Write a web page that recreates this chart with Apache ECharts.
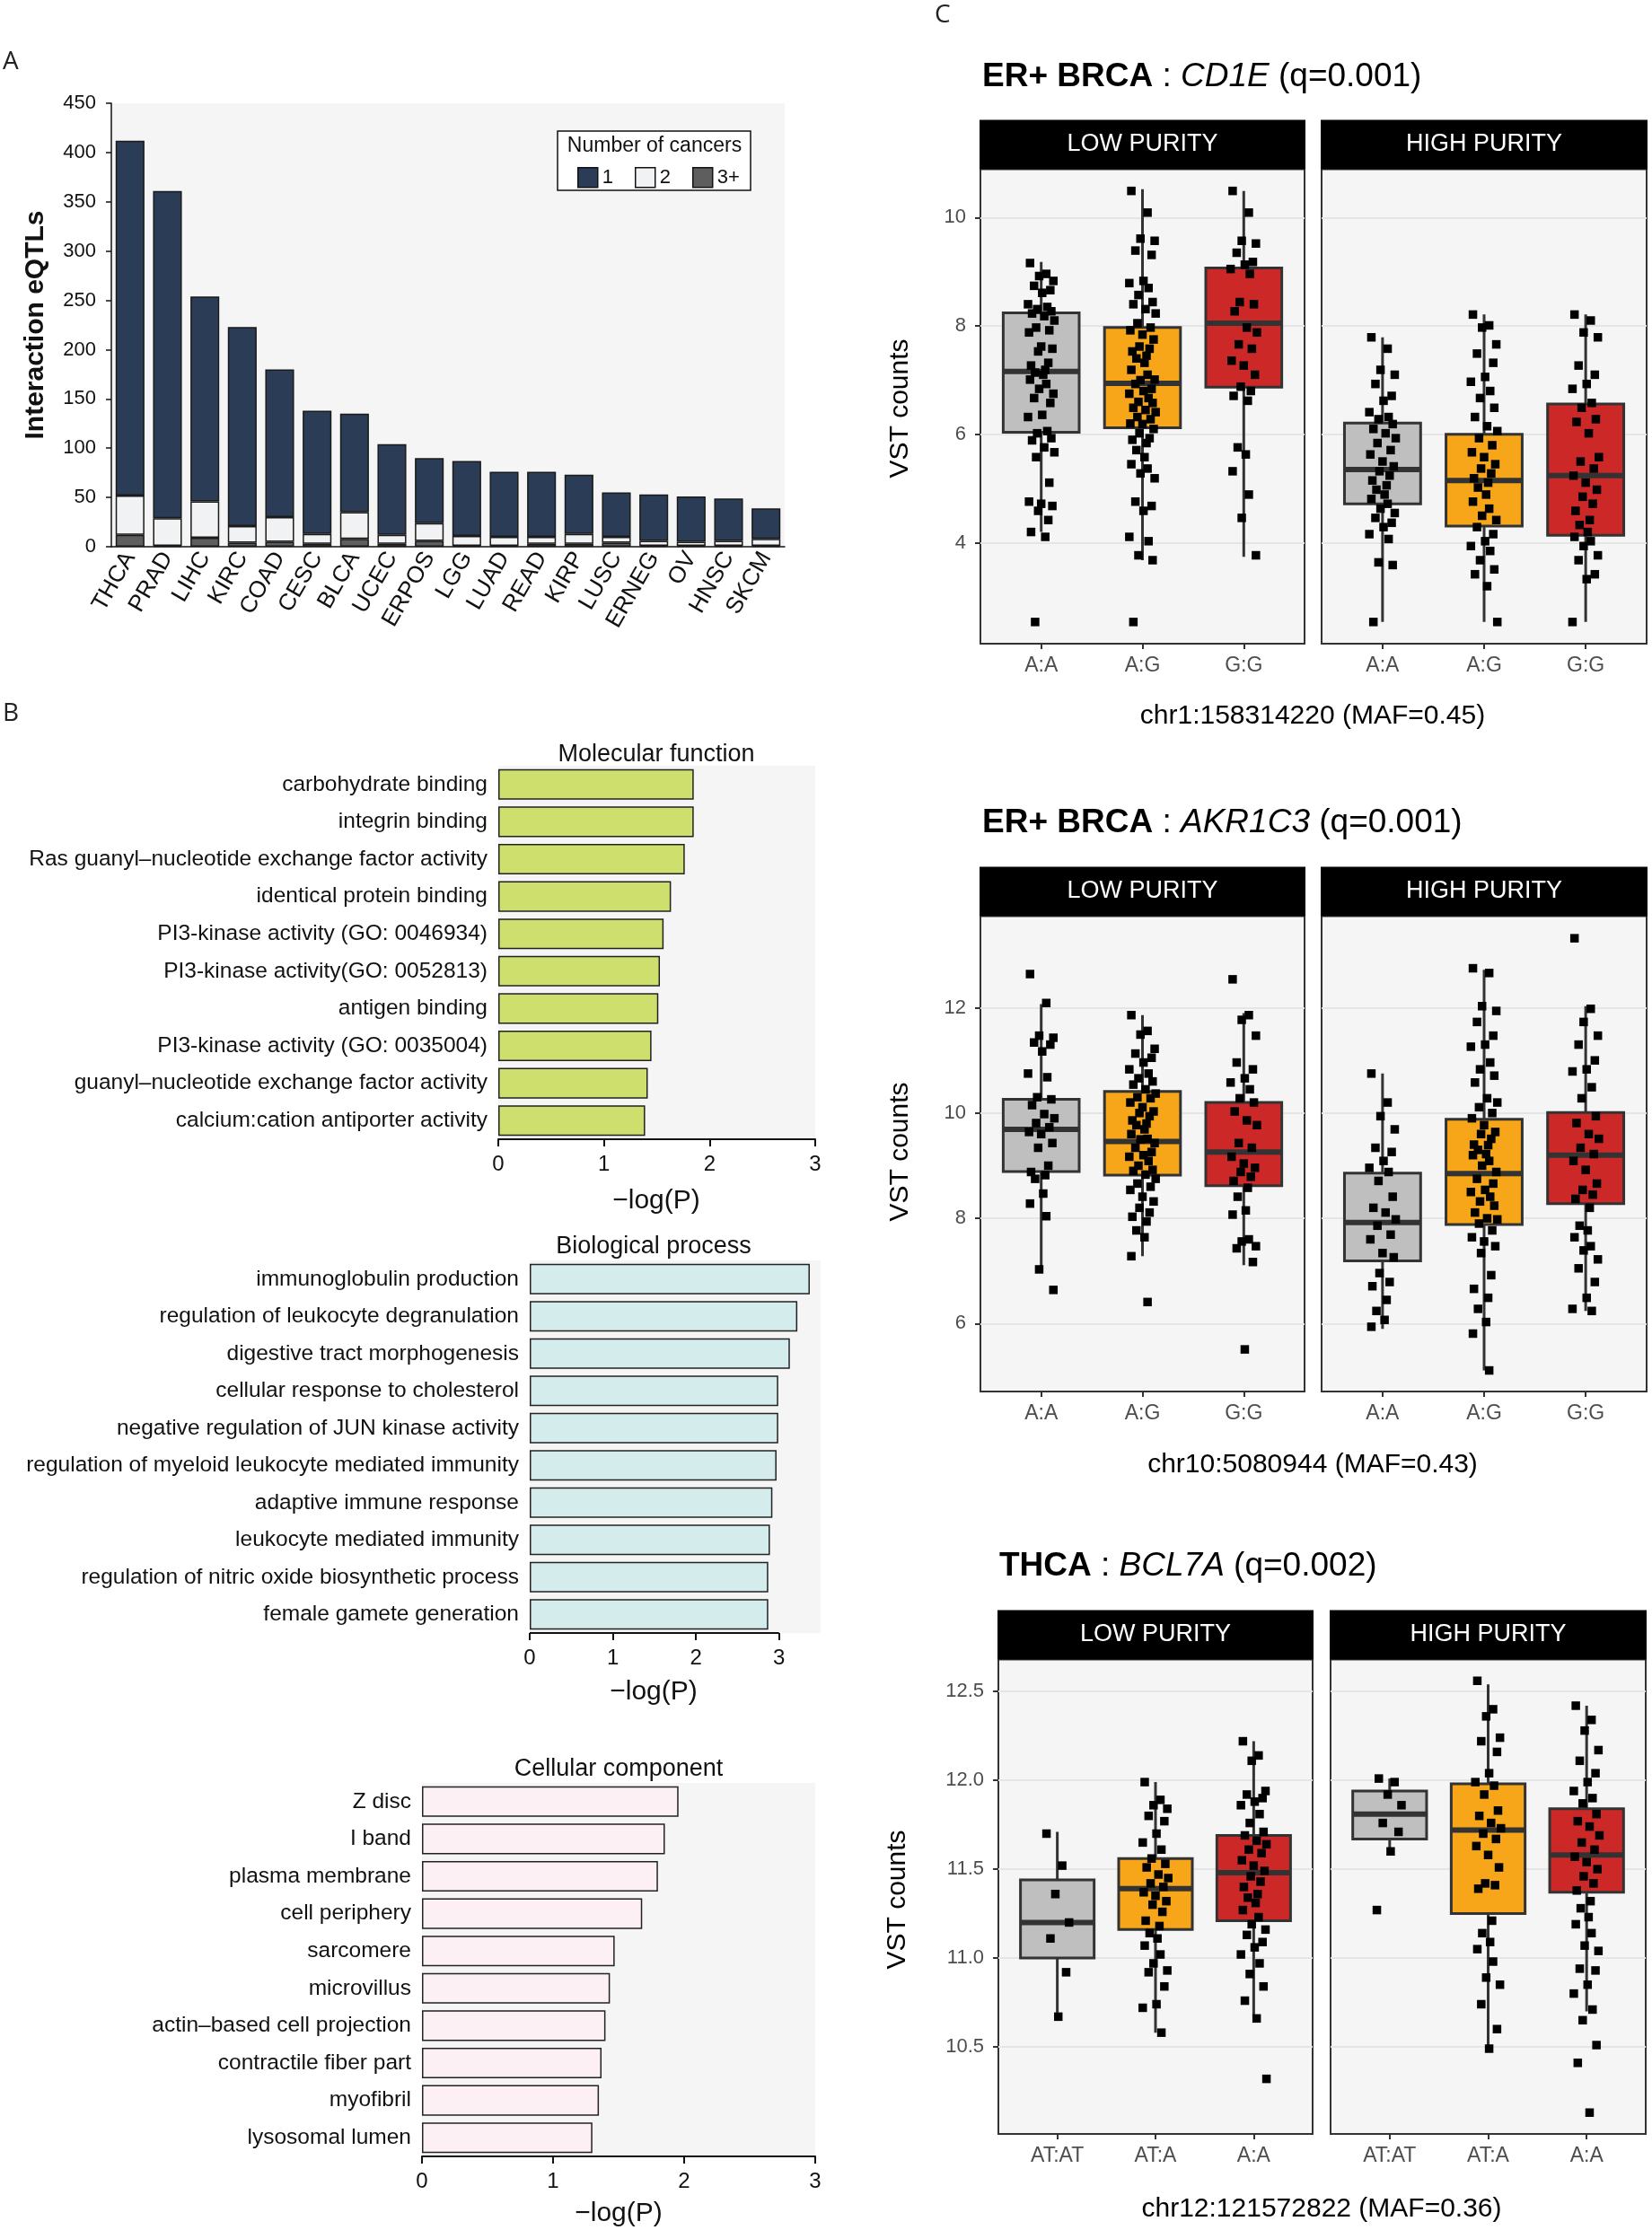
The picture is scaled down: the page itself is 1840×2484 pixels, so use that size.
<!DOCTYPE html>
<html><head><meta charset="utf-8">
<script src="https://cdn.jsdelivr.net/npm/echarts@6/dist/echarts.min.js"></script>
<style>html,body{margin:0;padding:0;background:#fff}#c{width:1840px;height:2484px}</style>
</head><body><div id="c"></div>
<script>
// ---------------- DATA ----------------
const cancerTypes = ['THCA','PRAD','LIHC','KIRC','COAD','CESC','BLCA','UCEC','ERPOS','LGG','LUAD','READ','KIRP','LUSC','ERNEG','OV','HNSC','SKCM'];
const eqtlIn1 = [360,332,208,202,150,125,100,92,66,76,66,66,60,45,47,46,43,31];
const eqtlIn2 = [40,28,37,17,25,10,27,9,18,10,9,7,10,6,5,4,5,7];
const eqtlIn3plus = [12,1,9,4,5,3,8,3,6,1,1,3,3,4,1,1,1,1];

const mfTerms = ['carbohydrate binding','integrin binding','Ras guanyl\u2013nucleotide exchange factor activity','identical protein binding','PI3-kinase activity (GO: 0046934)','PI3-kinase activity(GO: 0052813)','antigen binding','PI3-kinase activity (GO: 0035004)','guanyl\u2013nucleotide exchange factor activity','calcium:cation antiporter activity'];
const mfLogP = [1.85,1.85,1.765,1.635,1.565,1.53,1.515,1.45,1.415,1.39];
const bpTerms = ['immunoglobulin production','regulation of leukocyte degranulation','digestive tract morphogenesis','cellular response to cholesterol','negative regulation of JUN kinase activity','regulation of myeloid leukocyte mediated immunity','adaptive immune response','leukocyte mediated immunity','regulation of nitric oxide biosynthetic process','female gamete generation'];
const bpLogP = [3.37,3.22,3.13,2.99,2.99,2.97,2.92,2.89,2.87,2.87];
const ccTerms = ['Z disc','I band','plasma membrane','cell periphery','sarcomere','microvillus','actin\u2013based cell projection','contractile fiber part','myofibril','lysosomal lumen'];
const ccLogP = [1.957,1.853,1.80,1.68,1.47,1.434,1.40,1.37,1.35,1.30];

// Box stats: [whisker low, Q1, median, Q3, whisker high]
const cd1eGenotypes = ['A:A','A:G','G:G'];
const cd1eLowBox = [[4.2,6.04,7.16,8.24,9.18],[3.68,6.12,6.94,7.97,10.52],[3.74,6.87,8.05,9.07,10.49]];
const cd1eHighBox = [[2.54,4.72,5.35,6.21,7.79],[2.54,4.31,5.15,6.0,8.21],[2.54,4.14,5.24,6.56,8.21]];
const cd1eLowPts = [
 [9.16,8.96,8.92,8.83,8.74,8.66,8.61,8.4,8.35,8.31,8.27,8.23,8.18,8.1,7.97,7.92,7.88,7.62,7.58,7.53,7.32,7.27,7.19,7.14,7.1,7.01,6.93,6.84,6.75,6.67,6.58,6.36,6.32,6.06,6.02,5.93,5.89,5.76,5.67,5.58,5.11,4.76,4.72,4.68,4.59,4.42,4.2,4.11,2.54],
 [10.49,10.09,9.61,9.57,9.39,9.31,8.83,8.79,8.7,8.57,8.44,8.4,8.31,8.23,8.05,7.97,7.92,7.84,7.75,7.62,7.58,7.53,7.45,7.4,7.32,7.19,7.1,7.0,7.01,6.93,6.84,6.8,6.75,6.67,6.6,6.58,6.49,6.45,6.41,6.32,6.28,6.2,6.19,6.1,6.02,5.93,5.9,5.84,5.71,5.58,5.45,5.37,5.28,5.19,4.76,4.68,4.59,4.11,4.03,3.77,3.68,2.54],
 [10.49,10.09,9.57,9.52,9.35,9.18,9.13,9.05,8.96,8.44,8.4,8.27,7.97,7.88,7.66,7.58,7.36,7.27,7.1,6.88,6.8,6.71,6.62,5.76,5.63,5.32,4.89,4.46,3.77]];
const cd1eHighPts = [
 [7.79,7.58,7.19,7.1,6.93,6.71,6.62,6.41,6.32,6.28,6.19,6.1,6.02,5.93,5.84,5.71,5.63,5.5,5.41,5.32,5.24,5.15,5.06,4.98,4.89,4.81,4.72,4.63,4.55,4.46,4.37,4.29,4.16,4.07,3.64,3.59,2.54],
 [8.21,8.01,7.97,7.66,7.49,7.32,7.06,6.97,6.8,6.67,6.49,6.32,6.15,6.06,5.93,5.8,5.67,5.58,5.45,5.37,5.28,5.19,5.11,5.02,4.89,4.76,4.63,4.5,4.42,4.29,4.16,4.03,3.94,3.85,3.68,3.51,3.42,3.2,2.54],
 [8.21,8.1,7.88,7.79,7.27,7.1,6.93,6.84,6.58,6.49,6.28,6.23,6.02,5.58,5.5,5.37,5.24,5.11,4.98,4.85,4.72,4.59,4.42,4.33,4.2,4.11,4.03,3.94,3.77,3.68,3.42,3.33,2.54]];
const cd1eYRange = [2.14, 10.89];
const cd1eYTicks = [4,6,8,10];

const akrGenotypes = ['A:A','A:G','G:G'];
const akrLowBox = [[7.05,8.89,9.69,10.26,12.07],[7.28,8.82,9.46,10.41,11.86],[7.11,8.62,9.26,10.2,11.9]];
const akrHighBox = [[5.9,7.19,7.92,8.86,10.75],[5.11,7.88,8.85,9.88,12.72],[6.24,8.28,9.2,10.01,12.03]];
const akrLowPts = [
 [12.64,12.09,11.47,11.43,11.34,11.3,11.17,10.75,10.68,10.3,10.26,10.15,9.98,9.9,9.81,9.73,9.64,9.6,9.43,9.34,9.0,8.88,8.82,8.75,8.47,8.28,8.04,7.03,6.64],
 [11.86,11.56,11.49,11.22,11.13,11.05,10.96,10.83,10.75,10.66,10.6,10.54,10.45,10.37,10.3,10.28,10.2,10.11,10.03,10.0,9.94,9.86,9.8,9.77,9.69,9.6,9.51,9.5,9.43,9.34,9.26,9.2,9.17,9.09,9.0,8.92,8.9,8.83,8.75,8.66,8.6,8.54,8.41,8.32,8.2,8.11,8.03,7.94,7.77,7.64,7.28,6.41],
 [12.54,11.86,11.77,11.47,10.96,10.83,10.66,10.58,10.45,10.28,10.2,10.03,9.86,9.77,9.43,9.34,9.17,9.04,8.96,8.88,8.79,8.71,8.58,8.41,8.15,8.07,7.6,7.56,7.47,7.43,7.17,5.51]];
const akrHighPts = [
 [10.75,10.2,9.94,9.69,9.34,9.26,9.09,8.96,8.88,8.71,8.41,8.2,8.11,7.98,7.86,7.69,7.6,7.34,7.26,6.96,6.79,6.71,6.45,6.24,6.07,5.94],
 [12.75,12.66,12.03,11.94,11.73,11.47,11.3,11.26,10.96,10.83,10.71,10.58,10.28,10.2,10.11,10.0,9.9,9.77,9.64,9.6,9.51,9.4,9.39,9.3,9.22,9.2,9.09,9.0,8.88,8.75,8.66,8.54,8.5,8.41,8.32,8.24,8.11,8.0,7.98,7.9,7.77,7.64,7.56,7.47,7.34,6.92,6.66,6.49,6.28,6.03,5.81,5.11],
 [13.32,11.98,11.73,11.47,11.3,11.0,10.83,10.79,10.49,10.28,9.94,9.81,9.6,9.51,9.34,9.22,9.09,8.92,8.66,8.54,8.45,8.37,8.2,7.86,7.77,7.64,7.47,7.39,7.22,7.05,6.79,6.49,6.28,6.24]];
const akrYRange = [4.71, 13.74];
const akrYTicks = [6,8,10,12];

const bclGenotypes = ['AT:AT','AT:A','A:A'];
const bclLowBox = [[10.67,11.0,11.2,11.44,11.71],[10.58,11.16,11.39,11.56,11.99],[10.68,11.21,11.48,11.69,12.22]];
const bclHighBox = [[11.58,11.67,11.81,11.94,12.01],[10.49,11.25,11.72,11.98,12.54],[10.7,11.37,11.58,11.84,12.42]];
const bclLowPts = [
 [11.7,11.52,11.36,11.2,11.11,10.92,10.67],
 [11.99,11.89,11.86,11.84,11.8,11.77,11.7,11.65,11.61,11.56,11.53,11.51,11.47,11.45,11.42,11.4,11.37,11.35,11.32,11.3,11.26,11.21,11.18,11.14,11.11,11.07,11.02,10.97,10.93,10.92,10.84,10.74,10.72,10.58],
 [12.22,12.14,12.11,11.94,11.92,11.9,11.88,11.86,11.81,11.76,11.71,11.69,11.66,11.64,11.61,11.59,11.55,11.52,11.49,11.46,11.43,11.4,11.36,11.34,11.31,11.27,11.23,11.19,11.16,11.13,11.09,11.06,11.02,10.97,10.91,10.84,10.76,10.66,10.32]];
const bclHighPts = [
 [12.01,11.99,11.92,11.86,11.76,11.71,11.6,11.27],
 [12.56,12.4,12.36,12.24,12.22,12.16,12.04,11.99,11.97,11.92,11.83,11.8,11.76,11.73,11.7,11.67,11.63,11.58,11.51,11.42,11.41,11.39,11.21,11.14,11.09,11.05,10.98,10.89,10.85,10.74,10.6,10.49],
 [12.42,12.34,12.28,12.17,12.11,12.04,11.99,11.94,11.9,11.87,11.81,11.77,11.74,11.69,11.65,11.61,11.57,11.54,11.5,11.46,11.42,11.38,11.32,11.28,11.23,11.19,11.14,11.07,11.04,10.94,10.93,10.85,10.8,10.71,10.65,10.51,10.41,10.13]];
const bclYRange = [10.01, 12.68];
const bclYTicks = [10.5,11.0,11.5,12.0,12.5];

// fixed horizontal jitter pattern (visual spread only)
const JITTER = [-0.11,0.05,-0.02,0.12,-0.07,0.09,0.01,-0.13,0.06,-0.04,0.1,-0.09,0.03,0.13,-0.05,0.08,-0.12,0.0,0.11,-0.03,0.07,-0.1,0.04,-0.06,0.02];

// ---------------- STYLE ----------------
const FONT = "'Liberation Sans', Arial, Helvetica, sans-serif";
const BG = '#f4f5f4';
const BOX_COLORS = ['#bfbfbf','#f7a61a','#cd2828'];

const grids = [], xAxes = [], yAxes = [], series = [], graphics = [];

// ---------------- PANEL A ----------------
grids.push({left:124, top:115, width:750, height:494, show:true, backgroundColor:BG, borderWidth:0});
xAxes.push({gridIndex:0, type:'category', data:cancerTypes,
  axisLine:{lineStyle:{color:'#111', width:1.5}},
  axisTick:{alignWithLabel:true, length:6, lineStyle:{color:'#111', width:1.5}},
  axisLabel:{rotate:60, interval:0, fontSize:26, color:'#111', fontFamily:FONT, margin:8}});
yAxes.push({gridIndex:0, type:'value', min:0, max:450, interval:50,
  axisLine:{show:true, lineStyle:{color:'#111', width:1.5}},
  axisTick:{show:true, length:6, lineStyle:{color:'#111', width:1.5}},
  axisLabel:{fontSize:22, color:'#111', fontFamily:FONT, margin:17},
  splitLine:{show:false}});
[['3+', eqtlIn3plus, '#5e5e5e'], ['2', eqtlIn2, '#f0f2f3'], ['1', eqtlIn1, '#2b3c57']].forEach(([name, data, color]) => {
  series.push({type:'bar', name, data, stack:'eqtl', xAxisIndex:0, yAxisIndex:0, barCategoryGap:'23%',
    itemStyle:{color, borderColor:'#1a1a1a', borderWidth:1.5}, emphasis:{disabled:true}});
});

// ---------------- PANEL B ----------------
function goPanel(terms, vals, color, box, xmax) {
  const gi = grids.length;
  grids.push({left:box[0], top:box[1], width:box[2], height:box[3], show:true, backgroundColor:BG, borderWidth:0});
  const fullLine = xmax === 3;
  xAxes.push({gridIndex:gi, type:'value', min:0, max:xmax,
    axisLine:{show:fullLine, onZero:false, lineStyle:{color:'#111', width:2}},
    axisTick:{show:true, length:8, customValues:[0,1,2,3], lineStyle:{color:'#111', width:2}},
    axisLabel:{customValues:[0,1,2,3], fontSize:24, color:'#111', fontFamily:FONT, margin:16},
    splitLine:{show:false}});
  yAxes.push({gridIndex:gi, type:'category', data:terms, inverse:true,
    axisLine:{show:false}, axisTick:{show:false},
    axisLabel:{fontSize:24.5, color:'#111', fontFamily:FONT, margin:12, interval:0}});
  series.push({type:'bar', data:vals, xAxisIndex:gi, yAxisIndex:gi, barCategoryGap:'18%',
    itemStyle:{color, borderColor:'#222', borderWidth:1.5}, emphasis:{disabled:true}});
  return gi;
}
goPanel(mfTerms, mfLogP, '#cfdf6e', [555, 853, 353, 416], 3);
const bpGrid = goPanel(bpTerms, bpLogP, '#d4ecec', [590, 1404, 324, 415], 3.5);
goPanel(ccTerms, ccLogP, '#fdf0f5', [470, 1986, 438, 416], 3);

// ---------------- PANEL C ----------------
function boxPanel(box, labels, stats, pts, yRange, yTicks, showY, fmt) {
  const gi = grids.length;
  grids.push({left:box[0], top:box[1], width:box[2], height:box[3], show:true, backgroundColor:BG, borderColor:'#333', borderWidth:2});
  xAxes.push({gridIndex:gi, type:'value', min:0.4, max:3.6,
    axisLine:{show:false},
    axisTick:{show:true, length:6, customValues:[1,2,3], lineStyle:{color:'#333', width:2}},
    axisLabel:{customValues:[1,2,3], formatter:v => labels[Math.round(v)-1], fontSize:23, color:'#4d4d4d', fontFamily:FONT, margin:13},
    splitLine:{show:false}});
  yAxes.push({gridIndex:gi, type:'value', min:yRange[0], max:yRange[1],
    axisLine:{show:false},
    axisTick:{show:showY, length:6, customValues:yTicks, lineStyle:{color:'#333', width:2}},
    axisLabel:{show:showY, customValues:yTicks, formatter:fmt, fontSize:22, color:'#4d4d4d', fontFamily:FONT, margin:16},
    splitLine:{show:true, lineStyle:{color:'#e4e5e5', width:2}}});
  series.push({type:'custom', xAxisIndex:gi, yAxisIndex:gi, z:2, silent:true,
    data: stats.map((s, i) => [i+1, s[0], s[1], s[2], s[3], s[4], i]),
    encode:{x:0, y:[1,2,3,4,5]},
    renderItem:(params, api) => {
      const x = api.value(0);
      const lo = api.coord([x, api.value(1)]);
      const q1 = api.coord([x, api.value(2)]);
      const md = api.coord([x, api.value(3)]);
      const q3 = api.coord([x, api.value(4)]);
      const hi = api.coord([x, api.value(5)]);
      const half = api.size([0.75, 0])[0] / 2;
      return {type:'group', children:[
        {type:'line', shape:{x1:lo[0], y1:lo[1], x2:hi[0], y2:hi[1]}, style:{stroke:'#333', lineWidth:3}},
        {type:'rect', shape:{x:q3[0]-half, y:q3[1], width:half*2, height:q1[1]-q3[1]}, style:{fill:BOX_COLORS[api.value(6)], stroke:'#333', lineWidth:3}},
        {type:'line', shape:{x1:md[0]-half, y1:md[1], x2:md[0]+half, y2:md[1]}, style:{stroke:'#333', lineWidth:6}}
      ]};
    }});
  const pdata = [];
  pts.forEach((arr, g) => arr.forEach((v, j) => pdata.push([g + 1 + JITTER[j % JITTER.length], v])));
  series.push({type:'scatter', xAxisIndex:gi, yAxisIndex:gi, z:3, silent:true, data:pdata,
    symbol:'rect', symbolSize:9.5, itemStyle:{color:'#000', opacity:1}});
  // facet strip
  graphics.push({type:'rect', shape:{x:box[0]-1, y:box[1]-55, width:box[2]+2, height:55}, style:{fill:'#000'}});
  return gi;
}
const fmt0 = v => String(v);
const fmt1 = v => v.toFixed(1);
boxPanel([1092, 188.5, 361, 528.5], cd1eGenotypes, cd1eLowBox, cd1eLowPts, cd1eYRange, cd1eYTicks, true, fmt0);
boxPanel([1472, 188.5, 362, 528.5], cd1eGenotypes, cd1eHighBox, cd1eHighPts, cd1eYRange, cd1eYTicks, false, fmt0);
boxPanel([1092, 1020.5, 361, 529.5], akrGenotypes, akrLowBox, akrLowPts, akrYRange, akrYTicks, true, fmt0);
boxPanel([1472, 1020.5, 362, 529.5], akrGenotypes, akrHighBox, akrHighPts, akrYRange, akrYTicks, false, fmt0);
boxPanel([1112, 1848.5, 350, 528.5], bclGenotypes, bclLowBox, bclLowPts, bclYRange, bclYTicks, true, fmt1);
boxPanel([1482, 1848.5, 351, 528.5], bclGenotypes, bclHighBox, bclHighPts, bclYRange, bclYTicks, false, fmt1);

// ---------------- TEXT ----------------
function txt(x, y, text, size, opts) {
  opts = opts || {};
  graphics.push({type:'text', x, y, rotation:opts.rot || 0, z:10,
    style:{text, fontSize:size, fontFamily:opts.family || FONT, fontWeight:opts.weight || 'normal',
      fill:opts.color || '#111', align:opts.align || 'center', verticalAlign:'middle', rich:opts.rich}});
}
const LETTER = "'Open Sans', 'Noto Sans', sans-serif";
txt(3, 69, 'A', 28, {align:'left', family:LETTER, color:'#222'});
txt(3, 795, 'B', 28, {align:'left', family:LETTER, color:'#222'});
txt(1041, 17, 'C', 28, {align:'left', family:LETTER, color:'#222'});
txt(40, 362, 'Interaction eQTLs', 30, {rot:Math.PI/2, weight:'bold'});

// legend box and title
graphics.push({type:'rect', shape:{x:621, y:146, width:215, height:66}, style:{fill:'#fff', stroke:'#111', lineWidth:1.5}, z:5});
txt(729, 163, 'Number of cancers', 23);

txt(731, 841, 'Molecular function', 27);
txt(731, 1338, '\u2212log(P)', 30);
txt(728, 1389, 'Biological process', 27);
txt(728, 1885, '\u2212log(P)', 30);
txt(689, 1971, 'Cellular component', 27);
txt(689, 2466, '\u2212log(P)', 30);

const richT = {b:{fontWeight:'bold', fontSize:37, fontFamily:FONT, fill:'#000'}, i:{fontStyle:'italic', fontSize:37, fontFamily:FONT, fill:'#000'}};
txt(1094, 86, '{b|ER+ BRCA} : {i|CD1E} (q=0.001)', 37, {align:'left', rich:richT, color:'#000'});
txt(1094, 917, '{b|ER+ BRCA} : {i|AKR1C3} (q=0.001)', 37, {align:'left', rich:richT, color:'#000'});
txt(1113, 1745, '{b|THCA} : {i|BCL7A} (q=0.002)', 37, {align:'left', rich:richT, color:'#000'});

[[1092,188.5,361,'LOW PURITY'],[1472,188.5,362,'HIGH PURITY'],[1092,1020.5,361,'LOW PURITY'],[1472,1020.5,362,'HIGH PURITY'],[1112,1848.5,350,'LOW PURITY'],[1482,1848.5,351,'HIGH PURITY']].forEach(s => {
  txt(s[0] + s[2]/2, s[1] - 27.5, s[3], 27, {color:'#fff'});
});
txt(1003, 455, 'VST counts', 30, {rot:Math.PI/2, color:'#000'});
txt(1003, 1283, 'VST counts', 30, {rot:Math.PI/2, color:'#000'});
txt(1000, 2116, 'VST counts', 30, {rot:Math.PI/2, color:'#000'});
txt(1462, 798, 'chr1:158314220 (MAF=0.45)', 30, {color:'#000'});
txt(1462, 1632, 'chr10:5080944 (MAF=0.43)', 30, {color:'#000'});
txt(1472, 2461, 'chr12:121572822 (MAF=0.36)', 30, {color:'#000'});

// ---------------- CHART ----------------
const chart = echarts.init(document.getElementById('c'), null, {renderer:'canvas'});
chart.setOption({
  animation:false,
  backgroundColor:'#fff',
  textStyle:{fontFamily:FONT},
  grid:grids, xAxis:xAxes, yAxis:yAxes, series,
  legend:{left:638, top:181, z:8, itemWidth:22, itemHeight:22, itemGap:24, data:['1','2','3+'], icon:'rect',
    selectedMode:false, textStyle:{fontSize:22, color:'#111', fontFamily:FONT},
    itemStyle:{borderColor:'#111', borderWidth:1.5}}
});
// x-axis line of Biological process panel spans 0..3 only
const bx0 = chart.convertToPixel({xAxisIndex:bpGrid}, 0);
const bx3 = chart.convertToPixel({xAxisIndex:bpGrid}, 3);
graphics.push({type:'line', shape:{x1:bx0, y1:1819, x2:bx3, y2:1819}, style:{stroke:'#111', lineWidth:2}, z:6});
chart.setOption({graphic:graphics});
</script></body></html>
